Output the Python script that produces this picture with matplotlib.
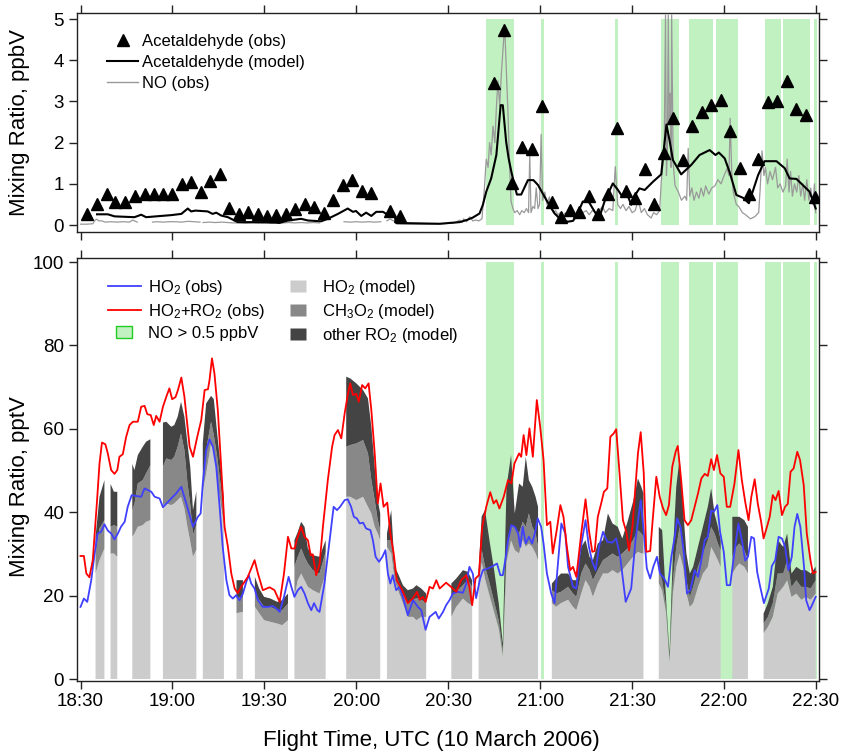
import numpy as np
import matplotlib
matplotlib.use("Agg")
import matplotlib.pyplot as plt
from matplotlib.lines import Line2D

plt.rcParams['font.family'] = ['Liberation Sans', 'DejaVu Sans']
plt.rcParams['mathtext.fontset'] = 'custom'
plt.rcParams['mathtext.rm'] = 'Liberation Sans'
plt.rcParams['mathtext.it'] = 'Liberation Sans:italic'
plt.rcParams['mathtext.bf'] = 'Liberation Sans:bold'

nan = np.nan

# time is given in minutes after 18:30 UTC
tick_minutes = [0, 30, 60, 90, 120, 150, 180, 210, 240]
tick_labels = ['18:30', '19:00', '19:30', '20:00', '20:30', '21:00', '21:30', '22:00', '22:30']

# periods with NO > 0.5 ppbV
no_high_start = [132.2, 150.4, 174.3, 189.3, 198.5, 207.3, 223.2, 229.1, 239.2]
no_high_end = [141.3, 151.4, 175.3, 195.2, 206.3, 214.5, 228.5, 238.2, 240.2]

# ---- top panel: acetaldehyde and NO (ppbV)
ald_obs_minutes = [2.1, 5.3, 8.6, 11.3, 14.6, 17.8, 20.9, 23.9, 27.0, 30.0, 33.1, 36.1, 39.2, 42.2, 45.4,
                   48.4, 51.7, 54.6, 57.8, 60.8, 63.9, 66.9, 70.1, 73.1, 76.1, 79.3, 82.5, 85.6, 88.7,
                   91.7, 94.9, 101.1, 104.1, 134.9, 138.2, 140.9, 144.2, 147.3, 150.5, 153.7, 156.7,
                   159.8, 162.8, 165.8, 169.0, 172.0, 175.0, 178.1, 181.1, 184.2, 187.1, 190.4, 193.4,
                   196.6, 199.6, 202.8, 205.8, 208.9, 212.0, 215.1, 218.1, 221.2, 224.3, 227.4, 230.4,
                   233.6, 236.6, 239.8]
ald_obs = [0.27, 0.52, 0.76, 0.56, 0.56, 0.70, 0.76, 0.76, 0.76, 0.76, 1.00, 1.04, 0.80, 1.08, 1.25,
           0.42, 0.26, 0.32, 0.27, 0.23, 0.25, 0.26, 0.38, 0.50, 0.44, 0.29, 0.60, 0.96, 1.10,
           0.83, 0.78, 0.34, 0.21, 3.44, 4.73, 1.01, 1.90, 1.84, 2.90, 0.55, 0.20,
           0.36, 0.31, 0.71, 0.26, 0.75, 2.36, 0.83, 0.65, 1.35, 0.50, 1.76, 2.61,
           1.59, 2.41, 2.75, 2.91, 3.03, 2.29, 1.38, 0.75, 1.60, 2.99, 3.02, 3.50,
           2.81, 2.67, 0.69]

ald_model_minutes = [5.4, 8.9, 11.1, 17.6, 19.8, 21.4, 26.3, 29.6, 32.9, 35.0, 36.1, 37.5, 41.5, 43.1, 44.3,
                     45.9, 48.1, 51.3, 56.7, 61.1, 64.9, 67.7, 72.0, 74.2, 78.5, 80.7, 84.0, 87.2, 88.9,
                     89.9, 91.6, 93.2, 94.9, 96.5, 98.7, 100.8, 102.5, 103.0, 110.0, 117.2, 123.7, 126.0,
                     128.0, 130.2, 131.3, 132.4, 134.0, 135.7, 137.1, 137.8, 138.9, 139.7, 140.6, 141.6,
                     142.4, 143.8, 146.0, 147.8, 149.3, 152.0, 154.7, 156.9, 159.0, 160.7, 162.0, 163.9,
                     165.8, 167.8, 169.2, 171.0, 173.7, 175.4, 176.8, 178.1, 179.7, 180.3, 182.4, 184.1,
                     186.8, 189.5, 191.2, 192.3, 193.3, 196.0, 199.3, 202.0, 205.3, 207.2, 208.3, 210.2,
                     211.8, 214.0, 216.2, 218.1, 221.1, 223.2, 227.1, 229.8, 231.4, 233.6, 235.7, 237.9,
                     239.9]
ald_model = [0.26, 0.26, 0.21, 0.19, 0.25, 0.19, 0.22, 0.24, 0.27, 0.40, 0.33, 0.35, 0.33, 0.27, 0.30,
             0.23, 0.19, 0.07, 0.07, 0.07, 0.05, 0.11, 0.15, 0.11, 0.09, 0.15, 0.27, 0.40, 0.32,
             0.34, 0.22, 0.30, 0.22, 0.32, 0.32, 0.22, 0.22, 0.05, 0.04, 0.03, 0.07, 0.12,
             0.18, 0.28, 0.49, 0.81, 1.13, 1.70, 2.91, 2.91, 2.02, 1.62, 1.29, 0.97,
             0.74, 0.74, 1.09, 1.09, 0.97, 0.61, 0.28, 0.12, 0.08, 0.10, 0.24, 0.57,
             0.57, 0.32, 0.16, 0.57, 1.01, 0.85, 0.69, 0.81, 0.49, 0.65, 0.89, 0.85,
             1.05, 1.23, 2.44, 2.02, 1.58, 1.23, 1.46, 1.70, 1.82, 1.70, 1.76, 1.62,
             1.29, 0.73, 0.66, 0.53, 1.21, 1.55, 1.55, 1.38, 1.13, 1.12, 0.97, 0.81,
             0.40]

no_minutes = [0, 2, 4, 4.8, 5.3, 6, 7, 8, 10, 12, 14, 16, 17, 18.5, 19,
              23.5, 25, 27, 29, 31, 33, 35, 37, 39, 39.5,
              40, 42, 44, 46, 48, 50, 52, 54, 56, 58, 60, 62, 64, 66, 68, 70, 72, 74, 76, 78, 80,
              86, 88, 90, 92, 94, 96, 98, 99,
              100, 101, 102, 102.8, 103.2, 106, 110, 114, 118, 120, 122, 123.7, 124.5, 125, 126, 127,
              128, 129, 130, 131, 131.8, 132.4, 133.0, 133.5, 134.0, 134.6, 135.2, 135.7, 136.2, 136.8,
              137.3, 137.9, 138.4, 138.9, 139.5, 140.0, 140.5, 141.1, 141.7, 142.5, 143.3, 144.0, 144.8,
              145.5, 146.2, 146.6, 147.0, 147.6, 148.2, 148.7, 149.3, 149.8, 150.3, 150.8, 151.5, 152.2,
              153.0, 153.6, 154.3, 155.0, 155.8, 156.5, 157.4, 158.2, 159.0, 160.0, 161.0, 162.0, 162.8,
              163.9, 165.0, 166.0, 167.0, 168.2, 169.3, 170.3, 171.3, 172.5, 173.7, 174.5, 175.3, 176.2,
              177.0, 178.0, 179.0, 180.0, 181.0, 182.0, 183.0, 184.0, 185.0, 186.2, 187.0, 188.0, 189.0,
              189.5, 190.0, 190.5, 190.9, 191.2, 191.5, 191.8, 192.1, 192.4, 192.7, 192.9, 193.4, 194.0,
              195.1, 196.1, 197.2, 197.8, 198.3, 198.8, 199.5, 200.2, 201.0, 201.8, 202.5, 203.3, 204.0,
              205.0, 206.0, 207.0, 208.0, 209.0, 210.0, 211.0, 211.6, 212.0, 212.5, 213.0, 214.0, 214.8,
              216.0, 217.0, 218.6, 220.0, 221.3, 221.8, 222.4, 223.0, 223.5, 224.2, 225.0, 225.8, 226.8,
              227.5, 228.3, 229.2, 230.1, 230.6, 231.2, 231.7, 232.3, 233.0, 233.7, 234.4, 235.0, 235.7,
              236.3, 237.0, 237.7, 238.3, 239.0, 239.5, 239.9]
no_obs = [0.02, 0.02, 0.03, 0.12, 0.14, 0.10, 0.10, 0.07, 0.08, 0.07, 0.08, 0.07, 0.12, 0.07, nan,
          0.07, 0.08, 0.07, 0.08, 0.08, 0.07, 0.09, 0.08, 0.07, nan,
          0.06, 0.07, 0.06, 0.07, 0.06, 0.05, 0.05, 0.04, 0.05, 0.04, 0.05, 0.04, 0.06, 0.05, 0.06,
          0.05, 0.06, 0.05, 0.06, 0.05, nan,
          0.08, 0.07, 0.08, 0.07, 0.08, 0.07, 0.08, nan,
          0.10, 0.15, 0.10, 0.12, 0.02, 0.02, 0.02, 0.02, 0.03, 0.04, 0.05, 0.12, 0.06, 0.15, 0.08, 0.20,
          0.10, 0.12, 0.10, 0.15, 0.90, 1.60, 1.40, 2.00, 1.70, 2.40, 2.00, 2.84, 3.50, 2.90,
          3.64, 4.30, 4.85, 3.90, 2.70, 1.45, 0.57, 0.40, 0.30, 0.35, 0.25, 0.35, 0.30,
          0.40, 0.30, 1.70, 0.30, 0.45, 0.40, 0.90, 0.40, 0.50, 2.20, 0.60, 0.80, 0.50,
          0.68, 0.40, 0.30, 0.35, 0.25, 0.30, 0.20, 0.30, 0.20, 0.25, 0.20, 0.30, 0.25,
          0.30, 0.35, 0.25, 0.35, 0.30, 0.35, 0.45, 0.30, 0.40, 0.35, 1.42, 0.50, 0.40,
          0.50, 0.35, 0.45, 0.30, 0.35, 0.60, 0.30, 0.40, 0.25, 0.17, 0.30, 0.25, 0.35,
          1.05, 1.45, 2.00, 5.10, 1.20, 1.80, 5.10, 2.50, 3.20, 1.40, 5.10, 1.50, 0.96,
          0.80, 0.60, 0.70, 0.60, 1.86, 0.70, 0.90, 0.60, 0.80, 0.65, 0.90, 0.70, 0.95,
          0.75, 0.90, 0.95, 1.10, 1.00, 1.20, 1.37, 1.20, 2.59, 1.30, 0.80, 0.50, 0.45,
          0.30, 0.25, 0.15, 0.20, 0.30, 0.90, 1.80, 1.20, 1.40, 1.00, 1.30, 1.10, 1.40,
          0.90, 1.00, 0.80, 0.95, 1.60, 0.80, 1.30, 0.70, 1.00, 0.80, 1.20, 0.70, 1.00,
          0.60, 1.10, 0.60, 0.90, 0.50, 1.00, 0.30]

# ---- bottom panel: peroxy radicals (pptV)
ho2_obs_minutes = [0, 1.1, 2.2, 3.5, 4.6, 5.6, 6.7, 7.8, 8.9, 10.0, 11.1, 12.2, 13.2, 14.4, 15.4, 16.7,
                   18.1, 19.8, 20.9, 22.0, 23.1, 24.2, 25.8, 26.9, 28.3, 29.6, 31.2, 32.9, 34.5, 36.7,
                   38.3, 39.2, 39.9, 41.0, 42.1, 43.2, 44.3, 45.4, 46.4, 47.6, 48.6, 49.7, 50.8, 51.9,
                   53.0, 54.1, 54.9, 55.7, 56.8, 57.9, 59.5, 61.2, 62.8, 63.9, 65.0, 66.4, 67.9, 68.8,
                   69.8, 70.9, 72.0, 73.1, 74.2, 75.3, 76.2, 77.3, 78.0, 79.6, 81.3, 82.6, 83.7, 84.7,
                   86.2, 87.2, 88.3, 89.2, 90.2, 91.1, 92.2, 93.2, 94.6, 95.4, 96.3, 97.4, 98.5, 99.5,
                   100.3, 101.1, 101.9, 103.0, 104.1, 105.2, 106.8, 108.5, 110.1, 111.2, 112.6, 113.9,
                   115.9, 116.9, 118.3, 119.3, 120.4, 121.5, 123.1, 124.8, 125.9, 126.9, 128.0, 129.1,
                   130.4, 131.3, 132.9, 134.6, 135.9, 137.0, 137.8, 138.7, 139.5, 140.6, 141.7, 142.8,
                   143.5, 144.3, 145.3, 146.3, 147.4, 148.5, 149.2, 150.3, 151.1, 152.2, 153.6, 154.7,
                   155.8, 156.9, 158.2, 159.1, 160.7, 161.8, 162.9, 164.8, 165.9, 167.0, 168.1, 169.2,
                   170.5, 171.9, 173.5, 174.8, 176.1, 177.9, 179.7, 181.1, 182.8, 183.8, 184.8, 185.9,
                   186.9, 188.1, 189.1, 190.5, 191.7, 192.8, 193.9, 194.7, 195.8, 196.9, 197.9, 199.0,
                   200.4, 201.5, 202.6, 203.7, 204.7, 205.8, 206.7, 207.8, 208.7, 209.9, 210.9, 212.0,
                   213.4, 214.7, 215.8, 216.9, 217.8, 218.9, 219.8, 220.8, 221.8, 223.0, 224.6, 225.6,
                   226.7, 227.8, 228.9, 229.9, 231.0, 232.1, 233.0, 233.9, 234.9, 236.1, 236.8, 237.9,
                   238.7, 239.9]
ho2_obs = [17.3, 19.3, 18.5, 23.7, 30.1, 34.9, 35.3, 37.1, 35.6, 34.9, 33.5, 34.9, 36.5, 37.7, 41.3, 44.1,
           43.9, 43.7, 45.7, 45.3, 44.9, 43.7, 43.3, 41.2, 42.3, 43.3, 44.5, 46.1, 42.1, 36.5,
           38.9, 39.7, 46.9, 54.9, 57.5, 55.7, 50.9, 41.3, 31.7, 23.7, 20.1, 19.3, 20.1, 18.9,
           20.5, 23.3, 24.9, 22.9, 21.7, 18.9, 17.3, 17.3, 17.5, 16.9, 16.1, 19.7, 24.5, 22.1,
           19.7, 21.3, 22.1, 20.5, 18.2, 16.5, 18.2, 16.5, 16.1, 22.9, 33.3, 41.3, 40.5, 41.3,
           42.9, 43.1, 41.3, 38.9, 38.5, 37.3, 37.5, 36.1, 35.7, 33.3, 29.3, 28.1, 29.3, 30.9,
           25.3, 22.9, 24.9, 21.3, 22.1, 19.7, 15.3, 18.9, 17.3, 16.5, 11.8, 14.9,
           16.1, 14.5, 16.1, 17.7, 18.9, 20.5, 20.9, 20.7, 22.9, 26.9, 25.3, 19.4,
           24.1, 26.1, 26.5, 27.1, 27.7, 24.9, 24.9, 28.9, 33.3, 36.9, 36.5, 34.9,
           31.7, 36.5, 32.5, 34.1, 32.5, 35.7, 38.5, 36.5, 32.5, 25.3, 20.5, 18.2,
           27.7, 37.3, 34.9, 26.9, 22.1, 21.7, 30.1, 38.1, 31.7, 28.1, 26.1, 31.7,
           35.3, 32.9, 32.7, 33.7, 29.3, 18.5, 21.7, 33.3, 42.9, 35.3, 26.5, 24.1,
           26.9, 29.3, 25.3, 24.1, 22.1, 29.3, 34.1, 38.5, 36.5, 30.1, 20.5, 21.3,
           26.1, 24.5, 28.5, 33.3, 34.1, 40.4, 40.1, 41.7, 35.3, 30.5, 22.5, 22.5,
           30.5, 37.3, 33.3, 28.4, 29.3, 34.1, 33.7, 25.7, 22.1, 18.2, 21.7, 27.1,
           28.5, 34.1, 33.7, 31.7, 26.1, 29.3, 36.5, 39.6, 36.5, 26.9, 18.9, 16.5,
           17.7, 19.7]

ro2_obs_minutes = [0, 1.1, 1.9, 2.9, 4.0, 5.4, 6.2, 7.0, 8.1, 8.9, 10.0, 11.1, 12.0, 12.7, 13.8, 14.9,
                   16.0, 17.1, 18.7, 19.8, 20.9, 21.8, 22.9, 23.9, 24.7, 25.8, 26.9, 28.0, 29.0, 29.9,
                   31.0, 31.8, 32.9, 33.9, 35.6, 36.7, 38.1, 39.4, 40.5, 41.6, 42.1, 42.9, 43.7, 44.8,
                   45.9, 47.0, 48.1, 49.2, 50.3, 51.3, 52.4, 54.6, 56.8, 57.9, 59.5, 61.7, 63.3, 65.0,
                   66.4, 67.7, 68.8, 69.9, 70.7, 72.0, 73.1, 74.2, 75.1, 75.8, 76.9, 78.0, 79.1, 80.7,
                   82.1, 82.9, 84.0, 85.1, 86.2, 87.2, 88.0, 88.9, 90.0, 90.8, 91.9, 92.9, 94.0, 94.9,
                   96.0, 97.0, 97.9, 98.9, 100.1, 101.1, 102.2, 103.2, 104.7, 106.8, 108.5, 109.8, 110.7,
                   111.7, 112.6, 113.9, 115.0, 116.1, 117.2, 119.3, 120.9, 122.6, 124.2, 125.9, 126.9,
                   127.8, 128.9, 130.0, 131.1, 132.4, 133.7, 134.8, 135.7, 136.7, 138.1, 139.5, 140.6,
                   141.6, 143.1, 143.8, 144.6, 145.5, 146.5, 147.6, 148.9, 150.0, 151.1, 152.2, 153.3,
                   154.1, 155.4, 156.6, 157.6, 158.7, 159.8, 160.7, 161.8, 163.4, 164.8, 165.9, 167.0,
                   167.8, 168.8, 169.9, 170.8, 171.9, 172.9, 174.0, 174.8, 175.9, 177.0, 178.1, 179.0,
                   180.1, 181.0, 181.9, 182.8, 183.8, 184.6, 185.9, 186.8, 187.9, 189.0, 190.1, 191.1,
                   192.0, 193.1, 194.2, 194.9, 196.0, 197.1, 198.2, 199.3, 200.4, 201.5, 202.6, 203.7,
                   204.7, 205.8, 206.7, 207.7, 208.8, 209.9, 210.9, 212.0, 213.4, 214.7, 215.8, 216.9,
                   218.0, 218.9, 220.0, 221.0, 222.1, 222.9, 224.0, 224.9, 225.9, 226.8, 227.8, 228.9,
                   229.9, 230.8, 231.7, 232.7, 233.9, 234.8, 236.0, 237.0, 238.2, 239.0, 239.9]
ro2_obs = [29.5, 29.5, 25.3, 24.4, 28.5, 42.9, 51.7, 56.7, 56.3, 54.1, 50.1, 49.2, 50.1, 53.3, 53.9, 58.1,
           60.9, 61.7, 61.7, 65.3, 65.5, 63.5, 63.3, 60.9, 63.1, 61.7, 65.3, 67.7, 69.7, 67.1,
           67.6, 69.3, 72.3, 67.7, 55.7, 53.3, 58.1, 62.1, 69.3, 69.5, 71.7, 76.9, 73.3, 64.5,
           50.9, 36.5, 31.7, 25.3, 21.7, 20.6, 22.1, 24.5, 28.5, 25.3, 21.3, 22.0, 21.3, 18.5,
           25.3, 34.1, 31.3, 31.3, 33.7, 36.5, 34.1, 33.3, 29.7, 29.9, 24.9, 27.5, 36.5, 47.7,
           55.7, 58.5, 59.7, 57.7, 63.7, 68.1, 70.9, 68.1, 68.4, 66.5, 70.5, 69.7, 70.9, 64.5,
           54.1, 42.1, 46.9, 41.3, 42.3, 34.9, 30.1, 23.7, 21.7, 18.2, 19.4, 20.9, 19.0,
           19.7, 18.5, 22.1, 21.7, 23.7, 21.7, 23.1, 22.1, 20.9, 23.7, 24.9, 22.1,
           17.7, 24.1, 24.9, 36.5, 41.3, 44.8, 42.1, 42.9, 40.9, 43.7, 47.7, 46.9,
           51.7, 54.1, 53.3, 58.5, 53.7, 60.1, 53.3, 66.9, 60.5, 52.5, 36.9, 37.7,
           30.1, 35.7, 41.7, 38.9, 31.7, 26.1, 26.9, 24.5, 34.9, 43.1, 35.7, 30.5,
           30.7, 38.9, 42.1, 44.9, 45.7, 58.1, 58.9, 59.9, 49.3, 38.1, 35.3, 30.8,
           36.5, 45.3, 54.1, 59.2, 49.3, 30.5, 30.7, 38.9, 48.5, 43.7, 40.9, 39.3,
           41.7, 50.9, 54.5, 55.9, 47.7, 38.1, 36.9, 38.1, 41.3, 44.5, 48.1, 49.2,
           48.7, 52.7, 50.1, 53.7, 49.3, 48.5, 41.3, 41.3, 46.9, 54.9, 47.7, 42.5,
           38.1, 43.7, 47.9, 42.1, 37.7, 33.7, 36.5, 38.9, 44.1, 42.9, 45.1, 39.3,
           41.3, 42.0, 49.7, 50.5, 54.5, 52.5, 46.5, 34.9, 28.5, 25.3, 25.7]

# model: upper edge of each stacked layer (HO2, HO2+CH3O2, HO2+all RO2); nan = no model run
model_minutes = [4.9, 6.2, 7.8, nan,
                 9.8, 10.9, 12.0, nan,
                 16.9, 17.6, 18.7, 20.3, 21.4, 22.8, nan,
                 26.9, 28.0, 29.6, 30.6, 31.7, 32.8, 33.9, 34.9, 35.8, 36.7, 37.8, nan,
                 39.9, 41.0, 42.6, 43.5, 44.6, 46.8, nan,
                 50.9, 53.0, nan,
                 56.9, 58.3, 59.9, 62.0, 64.2, 65.8, 67.7, nan,
                 69.8, 70.9, 72.0, 73.1, 74.2, 75.8, 78.0, 80.0, nan,
                 86.7, 88.0, 90.0, 92.2, 93.8, 94.9, 96.0, 97.0, 97.8, nan,
                 100.0, 101.4, 102.5, 103.6, 105.2, 106.8, 108.5, 109.6, 111.2, 112.8, nan,
                 121.0, 122.6, 124.8, 126.4, 127.8, nan,
                 129.9, 130.9, 132.0, 133.5, 135.0, 136.5, 137.8, 139.0, 140.5, 141.7, 143.1, 144.3,
                 145.3, 146.3, 147.4, 148.5, 149.3, nan,
                 153.8, 155.2, 156.8, 159.1, 160.7, 161.8, 163.4, 164.8, 166.1, 167.2, 168.8, 170.5,
                 172.1, 173.6, 175.3, 176.8, 178.5, 180.3, 181.9, 183.0, 183.7, nan,
                 188.7, 189.8, 191.1, 192.2, 193.3, 194.4, 195.5, 196.6, 197.7, 198.8, 199.9, 201.5,
                 203.1, 204.7, 205.8, 206.9, 208.0, 208.9, nan,
                 212.7, 214.0, 215.0, 216.6, 217.8, nan,
                 222.9, 224.3, 225.9, 227.5, 229.3, 230.6, 232.0, 233.6, 235.2, 236.7, 238.3, 239.9]
model_ho2 = [25.3, 28.5, 31.3, nan,
             30.1, 30.1, 29.3, nan,
             34.1, 34.9, 36.5, 36.9, 37.7, 38.1, nan,
             41.7, 42.1, 41.7, 42.1, 42.9, 43.7, 40.9, 36.5, 33.0, 29.3, 31.0, nan,
             45.0, 49.3, 56.5, 55.0, 47.7, 36.9, nan,
             15.8, 16.1, nan,
             17.3, 15.8, 14.1, 13.7, 13.3, 12.9, 14.1, nan,
             19.7, 23.7, 25.3, 23.7, 22.1, 21.3, 20.5, 25.3, nan,
             43.7, 43.7, 42.9, 43.7, 41.3, 39.7, 36.5, 34.9, 33.3, nan,
             31.7, 30.1, 23.7, 21.3, 18.2, 14.9, 14.9, 14.1, 14.9, 14.9, nan,
             14.9, 17.3, 19.3, 18.2, 17.7, nan,
             22.0, 28.0, 24.0, 20.0, 16.0, 12.0, 5.5, 28.0, 33.3, 30.9, 30.1, 33.3,
             31.7, 32.5, 31.7, 30.1, 28.5, nan,
             18.2, 17.3, 18.2, 19.0, 17.3, 16.5, 20.5, 23.7, 22.1, 19.7, 22.9, 25.3,
             25.3, 26.1, 25.3, 26.1, 27.7, 29.3, 30.5, 30.1, 30.1, nan,
             22.9, 21.3, 15.8, 4.0, 20.5, 26.9, 30.1, 26.9, 20.5, 17.3, 18.2, 22.1,
             25.3, 26.9, 31.7, 30.1, 28.5, 26.9, nan,
             25.3, 26.9, 27.7, 26.9, 25.3, nan,
             11.0, 12.5, 14.9, 20.5, 22.1, 23.7, 19.7, 20.5, 19.0, 19.7, 19.0, 20.5]
model_ho2_ch3o2 = [30.1, 36.1, 38.1, nan,
                   36.5, 36.9, 36.5, nan,
                   40.5, 42.0, 46.9, 47.7, 49.3, 51.3, nan,
                   50.9, 52.9, 52.5, 53.3, 55.7, 58.9, 54.9, 47.0, 42.0, 34.5, 37.0, nan,
                   47.7, 54.9, 61.7, 58.5, 53.3, 40.1, nan,
                   19.4, 19.7, nan,
                   20.5, 19.0, 17.3, 17.3, 16.5, 16.5, 18.1, nan,
                   26.9, 29.3, 31.3, 29.3, 27.7, 26.1, 25.3, 30.5, nan,
                   55.7, 56.1, 56.5, 57.3, 54.1, 47.7, 42.9, 38.1, 35.7, nan,
                   33.3, 33.3, 25.3, 23.7, 20.5, 18.2, 19.0, 19.4, 19.0, 18.2, nan,
                   19.7, 20.9, 22.5, 23.7, 22.1, nan,
                   25.0, 31.0, 27.0, 23.0, 18.5, 14.0, 7.0, 31.0, 36.9, 36.5, 34.9, 37.7,
                   36.5, 39.7, 36.5, 34.9, 31.7, nan,
                   21.3, 20.5, 20.9, 22.1, 20.5, 19.7, 25.3, 27.7, 26.1, 23.7, 26.1, 28.5,
                   29.3, 30.1, 29.3, 30.1, 31.3, 33.3, 35.7, 34.9, 34.1, nan,
                   26.1, 23.7, 17.3, 5.0, 23.7, 31.7, 36.5, 32.5, 23.7, 19.7, 22.1, 26.9,
                   30.1, 33.3, 36.5, 34.9, 32.5, 30.9, nan,
                   29.3, 31.7, 32.5, 30.9, 28.5, nan,
                   13.3, 14.9, 18.2, 25.3, 25.3, 28.5, 22.1, 23.7, 22.1, 22.1, 21.7, 23.7]
model_total = [34.1, 43.7, 47.7, nan,
               46.8, 44.9, 44.9, nan,
               51.6, 50.1, 53.7, 55.7, 56.9, 57.5, nan,
               61.5, 61.7, 60.5, 60.9, 62.9, 66.5, 62.9, 56.5, 51.0, 40.5, 45.0, nan,
               56.5, 66.1, 67.9, 67.1, 58.9, 43.3, nan,
               23.7, 23.7, nan,
               24.5, 21.7, 19.7, 19.3, 18.5, 18.9, 20.5, nan,
               33.3, 35.3, 37.7, 36.5, 31.3, 29.7, 29.3, 33.3, nan,
               72.5, 72.1, 70.9, 69.3, 67.3, 60.5, 50.9, 42.9, 39.7, nan,
               34.9, 40.5, 26.9, 25.3, 22.5, 21.3, 21.7, 22.5, 21.7, 20.5, nan,
               22.9, 24.1, 26.1, 25.7, 23.7, nan,
               26.0, 39.0, 40.5, 33.0, 26.0, 18.0, 8.5, 46.0, 53.7, 39.7, 46.9, 46.1,
               53.3, 47.7, 46.1, 43.7, 41.3, nan,
               22.9, 24.1, 25.3, 25.3, 23.7, 23.7, 31.7, 33.3, 29.3, 28.5, 32.5, 33.3,
               39.7, 37.3, 36.5, 33.7, 37.7, 42.5, 48.1, 46.1, 44.5, nan,
               36.5, 35.7, 18.9, 6.2, 30.1, 46.1, 52.9, 41.3, 30.1, 25.3, 26.9, 31.7,
               36.5, 41.3, 45.7, 39.7, 36.5, 33.3, nan,
               38.9, 38.9, 38.9, 38.1, 36.5, nan,
               15.7, 18.2, 22.1, 33.3, 31.7, 34.9, 25.3, 26.9, 26.1, 26.1, 25.3, 26.9]

GREEN = '#c1f0c1'
LIGHT, MID, DARK = '#cccccc', '#888888', '#444444'

fig = plt.figure(figsize=(8.41, 7.54), dpi=100)
ax1 = fig.add_axes([0.0910, 0.6923, 0.8829, 0.2905])
ax2 = fig.add_axes([0.0910, 0.0968, 0.8829, 0.5610])

for a, b in zip(no_high_start, no_high_end):
    ax1.fill_between([a, b], 0, 5, color=GREEN, lw=0, zorder=0.5)
    ax2.fill_between([a, b], 0, 100, color=GREEN, lw=0, zorder=0.5)

# top panel
ax1.plot(no_minutes, no_obs, color='#999999', lw=0.9, zorder=2)
ax1.plot(ald_model_minutes, ald_model, color='black', lw=1.5, zorder=3)
ax1.plot(ald_obs_minutes, ald_obs, ls='none', marker='^', ms=8.5, color='black', zorder=4)

# bottom panel
mt = np.array(model_minutes)
m_ho2 = np.array(model_ho2)
m_mid = np.array(model_ho2_ch3o2)
m_tot = np.array(model_total)
ax2.fill_between(mt, 0, m_ho2, color=LIGHT, lw=0, zorder=1)
ax2.fill_between(mt, m_ho2, m_mid, color=MID, lw=0, zorder=1)
ax2.fill_between(mt, m_mid, m_tot, color=DARK, lw=0, zorder=1)
ax2.plot(ho2_obs_minutes, ho2_obs, color='#4040ff', lw=1.3, zorder=3)
ax2.plot(ro2_obs_minutes, ro2_obs, color='#ff0000', lw=1.3, zorder=3)

ax1.set_xlim(-1.3, 241.0)
ax2.set_xlim(-1.3, 241.0)
ax1.set_ylim(-0.17, 5.15)
ax2.set_ylim(-0.48, 100.96)
ax1.set_yticks([0, 1, 2, 3, 4, 5])
ax2.set_yticks([0, 20, 40, 60, 80, 100])
for ax in (ax1, ax2):
    ax.set_xticks(tick_minutes)
    ax.tick_params(direction='out', length=5.5, width=1, top=True, right=True,
                   labelsize=13.5, pad=3.4, color='#222222')
    for s in ax.spines.values():
        s.set_linewidth(1.0)
        s.set_color('#222222')
ax1.set_xticklabels([])
ax2.set_xticklabels(tick_labels)

ax1.set_ylabel('Mixing Ratio, ppbV', fontsize=16)
ax2.set_ylabel('Mixing Ratio, pptV', fontsize=16)
ax1.yaxis.set_label_coords(-0.062, 0.5)
ax2.yaxis.set_label_coords(-0.062, 0.46)
ax2.set_xlabel('Flight Time, UTC (10 March 2006)', fontsize=16)
ax2.xaxis.set_label_coords(0.478, -0.116)

# legends
top_handles = [Line2D([], [], ls='none', marker='^', ms=8.5, color='black'),
               Line2D([], [], color='black', lw=1.5),
               Line2D([], [], color='#999999', lw=1)]
ax1.legend(top_handles, ['Acetaldehyde (obs)', 'Acetaldehyde (model)', 'NO (obs)'],
           loc='upper left', bbox_to_anchor=(0.041, 0.905), frameon=False, fontsize=12,
           handlelength=1.87, handletextpad=0.25, labelspacing=0.36, borderpad=0, borderaxespad=0)

rect = [(-1, -0.72), (1, -0.72), (1, 0.72), (-1, 0.72), (-1, -0.72)]
obs_handles = [Line2D([], [], color='#4040ff', lw=1.3),
               Line2D([], [], color='#ff0000', lw=1.3),
               Line2D([], [], ls='none', marker=rect, ms=11.5, mfc=GREEN, mec='#22cc22', mew=1)]
leg1 = ax2.legend(obs_handles, ['HO$_2$ (obs)', 'HO$_2$+RO$_2$ (obs)', 'NO > 0.5 ppbV'],
                  loc='upper left', bbox_to_anchor=(0.0425, 0.952), frameon=False, fontsize=12,
                  handlelength=1.95, handletextpad=0.45, labelspacing=0.3, borderpad=0, borderaxespad=0)
ax2.add_artist(leg1)
model_handles = [Line2D([], [], ls='none', marker=rect, ms=11.5, mfc=c, mec='none') for c in (LIGHT, MID, DARK)]
ax2.legend(model_handles, ['HO$_2$ (model)', 'CH$_3$O$_2$ (model)', 'other RO$_2$ (model)'],
           loc='upper left', bbox_to_anchor=(0.277, 0.952), frameon=False, fontsize=12,
           handlelength=1.95, handletextpad=0.45, labelspacing=0.3, borderpad=0, borderaxespad=0)

fig.savefig('out.png', dpi=100)
